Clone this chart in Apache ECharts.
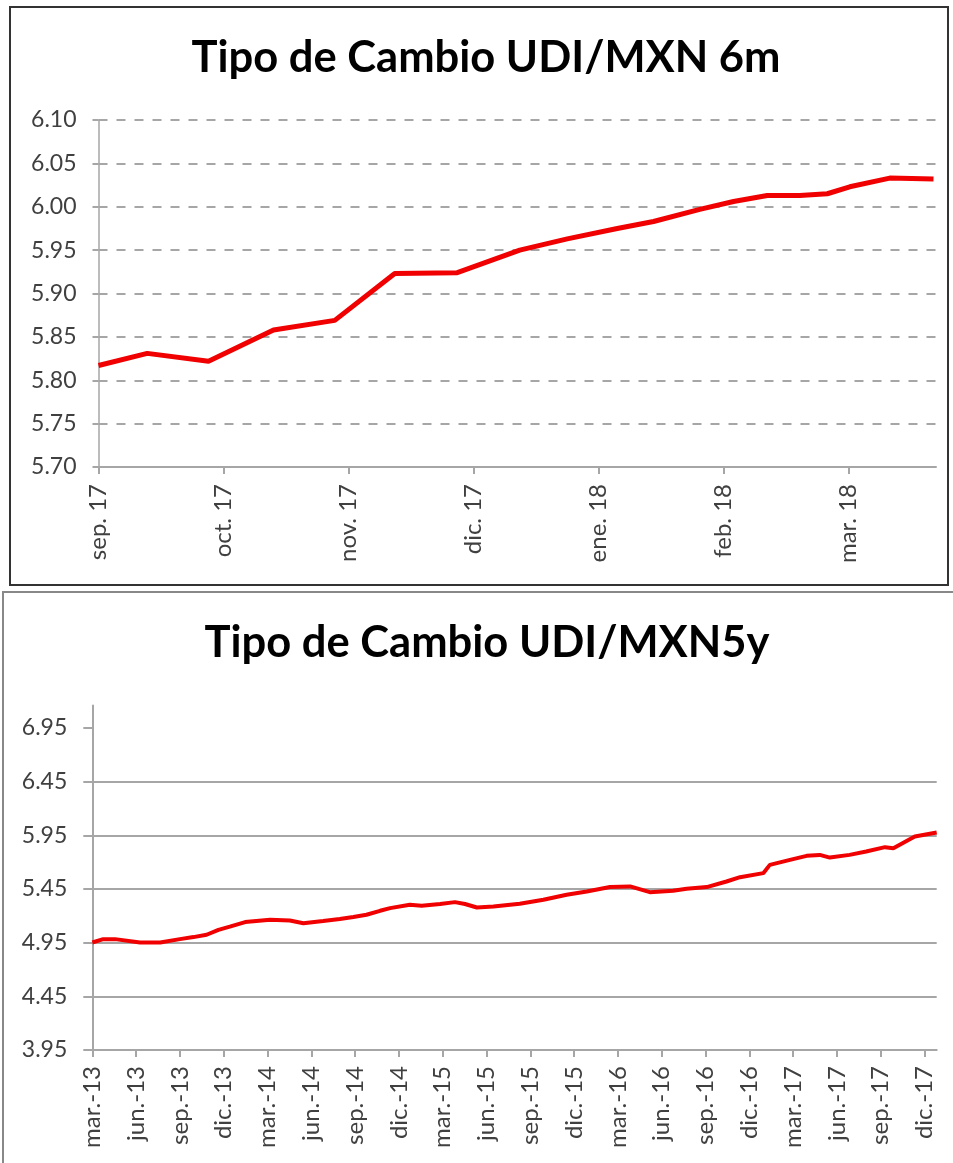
<!DOCTYPE html>
<html>
<head>
    <meta charset="utf-8">
    <title>Tipo de Cambio UDI/MXN</title>
    <script src="https://cdn.jsdelivr.net/npm/echarts@6/dist/echarts.min.js"></script>
    <style>
        html, body { margin: 0; padding: 0; background: #fff; }
        #main { width: 953px; height: 1163px; }
    </style>
</head>
<body>
<div id="main"></div>
<script type="text/javascript">
    // 6 meses: posicion en meses desde sep. 17, valor UDI/MXN
    var sixMonthLabels = ['sep. 17', 'oct. 17', 'nov. 17', 'dic. 17', 'ene. 18', 'feb. 18', 'mar. 18'];
    var sixMonthPos = [0, 0.39, 0.88, 1.40, 1.89, 2.37, 2.87, 3.37, 3.75, 4.15, 4.44, 4.81, 5.08, 5.35, 5.61, 5.83, 6.01, 6.33, 6.68];
    var sixMonthRate = [5.817, 5.831, 5.822, 5.858, 5.869, 5.923, 5.924, 5.950, 5.963, 5.975, 5.983, 5.997, 6.006, 6.013, 6.013, 6.015, 6.023, 6.033, 6.032];

    // 5 anios: posicion en trimestres desde mar.-13
    var fiveYearLabels = ['mar.-13', 'jun.-13', 'sep.-13', 'dic.-13', 'mar.-14', 'jun.-14', 'sep.-14', 'dic.-14',
        'mar.-15', 'jun.-15', 'sep.-15', 'dic.-15', 'mar.-16', 'jun.-16', 'sep.-16', 'dic.-16',
        'mar.-17', 'jun.-17', 'sep.-17', 'dic.-17'];
    var fiveYearPos = [0, 0.25, 0.52, 1.09, 1.55, 2.00, 2.31, 2.61, 2.88, 3.14, 3.49, 4.06, 4.51, 4.82, 5.27, 5.65,
        5.96, 6.26, 6.57, 6.80, 7.25, 7.52, 7.94, 8.28, 8.51, 8.78, 9.16, 9.54, 9.76, 10.30, 10.83, 11.29,
        11.82, 12.28, 12.73, 13.26, 13.57, 14.03, 14.48, 14.79, 15.32, 15.47, 15.93, 16.31, 16.61, 16.84,
        17.29, 17.67, 18.10, 18.29, 18.78, 19.28];
    var fiveYearRate = [4.952, 4.983, 4.983, 4.952, 4.952, 4.983, 5.002, 5.024, 5.070, 5.100, 5.142, 5.163, 5.156, 5.131, 5.152, 5.170,
        5.190, 5.210, 5.247, 5.272, 5.303, 5.294, 5.310, 5.328, 5.310, 5.278, 5.287, 5.303, 5.312, 5.350, 5.396, 5.427,
        5.468, 5.474, 5.421, 5.433, 5.452, 5.468, 5.520, 5.560, 5.598, 5.675, 5.722, 5.759, 5.768, 5.743,
        5.768, 5.799, 5.840, 5.830, 5.939, 5.976];
    var fiveYearTicks = [3.95, 4.45, 4.95, 5.45, 5.95, 6.45, 6.95];

    function zip(xs, ys) {
        var out = [];
        for (var i = 0; i < xs.length; i++) out.push([xs[i], ys[i]]);
        return out;
    }
    function range(n) {
        var out = [];
        for (var i = 0; i < n; i++) out.push(i);
        return out;
    }

    var gray = '#a6a6a6';
    var labelColor = '#404040';
    var font = 'Lato, "Open Sans", sans-serif';

    var myChart = echarts.init(document.getElementById('main'));

    var option = {
        backgroundColor: '#fff',
        animation: false,
        graphic: [
            { type: 'rect', shape: { x: 10, y: 7, width: 938, height: 578 },
              style: { fill: 'none', stroke: '#333', lineWidth: 2 } },
            { type: 'rect', shape: { x: 3, y: 592, width: 970, height: 600 },
              style: { fill: 'none', stroke: '#888', lineWidth: 2 } },
            { type: 'text', x: 486, y: 58,
              style: { text: 'Tipo de Cambio UDI/MXN 6m', fontFamily: font, fontWeight: 'bold', fontSize: 43.5,
                       fill: '#000', align: 'center', verticalAlign: 'middle' } },
            { type: 'text', x: 487, y: 643,
              style: { text: 'Tipo de Cambio UDI/MXN5y', fontFamily: font, fontWeight: 'bold', fontSize: 43.5,
                       fill: '#000', align: 'center', verticalAlign: 'middle' } }
        ],
        grid: [
            { left: 98.5, right: 17, top: 120, bottom: 696 },
            { left: 92.3, right: 16.3, top: 705.5, bottom: 113 }
        ],
        xAxis: [
            {
                gridIndex: 0, type: 'value', min: 0, max: 6.7,
                axisLine: { lineStyle: { color: gray, width: 2 } },
                axisTick: { show: true, length: 7, customValues: range(sixMonthLabels.length), lineStyle: { color: gray, width: 2 } },
                axisLabel: {
                    customValues: range(sixMonthLabels.length), rotate: 90, margin: 17,
                    color: labelColor, fontFamily: font, fontSize: 24,
                    formatter: function (v) { return sixMonthLabels[Math.round(v)]; }
                },
                splitLine: { show: false }
            },
            {
                gridIndex: 1, type: 'value', min: 0, max: 19.28,
                axisLine: { lineStyle: { color: gray, width: 2 } },
                axisTick: { show: true, length: 7, customValues: range(fiveYearLabels.length), lineStyle: { color: gray, width: 2 } },
                axisLabel: {
                    customValues: range(fiveYearLabels.length), rotate: 90, margin: 16,
                    color: labelColor, fontFamily: font, fontSize: 24,
                    formatter: function (v) { return fiveYearLabels[Math.round(v)]; }
                },
                splitLine: { show: false }
            }
        ],
        yAxis: [
            {
                gridIndex: 0, type: 'value', min: 5.70, max: 6.10, interval: 0.05,
                axisLine: { show: true, lineStyle: { color: gray, width: 1.5 } },
                axisTick: { show: true, length: 6, lineStyle: { color: gray, width: 2 } },
                axisLabel: {
                    margin: 22, color: labelColor, fontFamily: font, fontSize: 23,
                    formatter: function (v) { return v.toFixed(2); }
                },
                splitLine: { show: true, showMinLine: false,
                    lineStyle: { color: gray, width: 2, type: [9, 9] } }
            },
            {
                gridIndex: 1, type: 'value', min: 3.95, max: 7.16, interval: 0.5,
                axisLine: { show: true, lineStyle: { color: gray, width: 2 } },
                axisTick: { show: true, length: 9, customValues: fiveYearTicks, lineStyle: { color: gray, width: 2 } },
                axisLabel: {
                    customValues: fiveYearTicks, margin: 25, color: labelColor, fontFamily: font, fontSize: 23,
                    formatter: function (v) { return v.toFixed(2); }
                },
                splitLine: { show: true, showMinLine: false, showMaxLine: false,
                    lineStyle: { color: gray, width: 2 } }
            }
        ],
        series: [
            {
                type: 'line', xAxisIndex: 0, yAxisIndex: 0,
                data: zip(sixMonthPos, sixMonthRate),
                showSymbol: false, symbol: 'none',
                lineStyle: { color: '#f00000', width: 5 }
            },
            {
                type: 'line', xAxisIndex: 1, yAxisIndex: 1,
                data: zip(fiveYearPos, fiveYearRate),
                showSymbol: false, symbol: 'none',
                lineStyle: { color: '#f00000', width: 4 }
            }
        ]
    };

    myChart.setOption(option);
</script>
</body>
</html>
